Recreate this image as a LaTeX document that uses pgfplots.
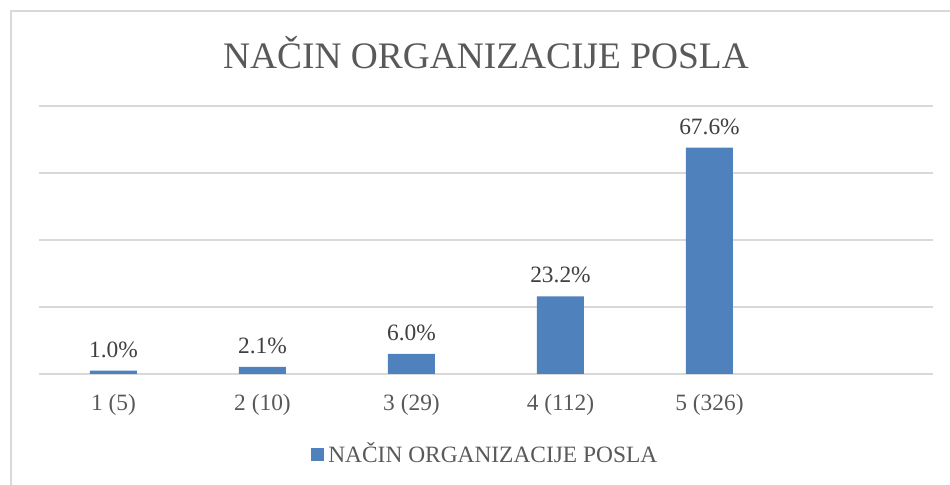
\documentclass[border=0pt]{standalone}
\usepackage{pgfplots}
\pgfplotsset{compat=1.18}
\usepackage{fontspec}
\setmainfont{Liberation Serif}
\definecolor{barblue}{RGB}{79,129,189}
\definecolor{gridgray}{RGB}{217,217,217}
\definecolor{txtgray}{RGB}{89,89,89}
\definecolor{lblgray}{RGB}{64,64,64}
\begin{document}
\begin{tikzpicture}
\useasboundingbox (0pt,0pt) rectangle (475pt,242.5pt);
\fill[white] (0pt,0pt) rectangle (475pt,242.5pt);
\begin{scope}
\clip (0pt,0pt) rectangle (475pt,242.5pt);
\draw[gridgray,line width=1pt] (5.25pt,236.75pt) rectangle (485pt,-10pt);
\end{scope}
\node[txtgray,font=\fontsize{18.7}{22}\selectfont] at (243pt,216pt) {NAČIN ORGANIZACIJE POSLA};
\begin{axis}[
  at={(56.75pt,55.5pt)}, anchor=origin,
  scale only axis, width=447pt, height=134pt,
  ymin=0, ymax=80, ytick={0,20,40,60,80},
  xmin=-0.5, xmax=5.5,
  xtick={0,1,2,3,4},
  xticklabels={1 (5),2 (10),3 (29),4 (112),5 (326)},
  yticklabels={},
  axis line style={draw=none},
  ymajorgrids, grid style={gridgray,line width=1pt},
  major tick length=0pt,
  tick label style={txtgray,font=\fontsize{11.7}{13}\selectfont},
  xticklabel style={yshift=-6.5pt},
  ybar, bar width=23.5pt,
  nodes near coords,
  point meta=explicit symbolic,
  nodes near coords style={lblgray,font=\fontsize{11.7}{13}\selectfont,yshift=3pt},
  legend style={at={(0.5,-0.30)},anchor=center,draw=none,fill=none,
    font=\fontsize{11.7}{13}\selectfont,text=txtgray,
    /tikz/every even column/.append style={column sep=0pt}},
  legend image code/.code={\fill[barblue] (0pt,-3.4pt) rectangle (6.8pt,3.4pt);},
  clip=false,
]
\addplot[fill=barblue,draw=none] coordinates {
  (0,1.0) [1.0\%]
  (1,2.1) [2.1\%]
  (2,6.0) [6.0\%]
  (3,23.2) [23.2\%]
  (4,67.6) [67.6\%]
};
\addlegendentry{NAČIN ORGANIZACIJE POSLA}
\end{axis}
\end{tikzpicture}
\end{document}
